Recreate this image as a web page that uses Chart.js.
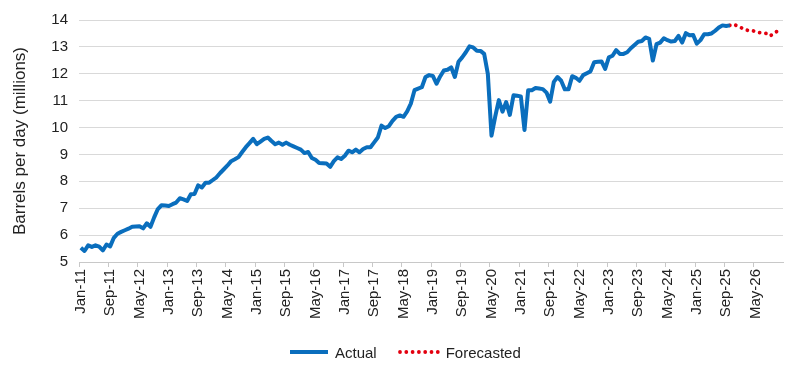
<!DOCTYPE html>
<html>
<head>
<meta charset="utf-8">
<script src="https://cdn.jsdelivr.net/npm/chart.js@4.4.1/dist/chart.umd.min.js"></script>
<style>
  html, body { margin: 0; padding: 0; background: #ffffff; }
  #wrap { width: 800px; height: 378px; position: relative; }
  #legend {
    position: absolute; left: 290px; top: 342px; height: 20px;
    display: flex; align-items: center;
    font-family: 'Liberation Sans', Arial, sans-serif; font-size: 15px; color: #222;
  }
  .item { display: flex; align-items: center; }
  .sw-line { width: 38px; height: 4px; background: #0a6ebd; margin-right: 7px; }
  .sw-dot { margin-right: 5px; display: block; }
  .gap { width: 20px; }
</style>
</head>
<body>
<div id="wrap">
  <canvas id="c" width="800" height="378"></canvas>
  <div id="legend">
    <div class="item"><span class="sw-line"></span><span>Actual</span></div>
    <div class="gap"></div>
    <div class="item">
      <svg class="sw-dot" width="44" height="8"><line x1="3" y1="4" x2="41" y2="4" stroke="#e3000f" stroke-width="3.8" stroke-linecap="round" stroke-dasharray="0 6.3"/></svg>
      <span>Forecasted</span>
    </div>
  </div>
</div>
<script>
// Month categories Jan-11 .. Dec-26
const monthNames = ["Jan","Feb","Mar","Apr","May","Jun","Jul","Aug","Sep","Oct","Nov","Dec"];
const categories = [];
for (let y = 11; y <= 26; y++) {
  for (let m = 0; m < 12; m++) categories.push(monthNames[m] + "-" + y);
}

// Actual production, Jan-11 .. Oct-25 (million b/d)
const actual = [
  5.53,5.41,5.62,5.56,5.62,5.57,5.43,5.65,5.58,5.90,6.05,6.12,
  6.18,6.24,6.31,6.32,6.33,6.25,6.44,6.31,6.66,6.97,7.11,7.10,
  7.08,7.15,7.21,7.37,7.33,7.27,7.52,7.53,7.85,7.77,7.95,7.95,
  8.05,8.15,8.31,8.45,8.59,8.75,8.82,8.90,9.09,9.27,9.42,9.58,
  9.38,9.48,9.58,9.63,9.50,9.38,9.44,9.36,9.44,9.36,9.30,9.24,
  9.18,9.05,9.09,8.87,8.80,8.68,8.67,8.66,8.54,8.75,8.89,8.83,
  8.95,9.14,9.08,9.18,9.08,9.20,9.27,9.27,9.45,9.63,10.07,9.98,
  10.05,10.25,10.40,10.45,10.40,10.60,10.89,11.39,11.45,11.50,11.88,11.95,
  11.92,11.63,11.90,12.12,12.15,12.24,11.88,12.45,12.61,12.80,13.02,12.98,
  12.86,12.85,12.74,12.00,9.70,10.40,11.02,10.59,10.95,10.47,11.20,11.18,
  11.16,9.91,11.39,11.39,11.47,11.45,11.43,11.30,10.96,11.70,11.88,11.74,
  11.42,11.42,11.91,11.85,11.74,11.95,12.02,12.09,12.43,12.45,12.46,12.18,
  12.61,12.67,12.88,12.74,12.74,12.80,12.95,13.07,13.19,13.22,13.35,13.30,
  12.49,13.10,13.16,13.32,13.25,13.20,13.22,13.41,13.16,13.51,13.43,13.44,
  13.12,13.25,13.47,13.47,13.50,13.60,13.72,13.80,13.78,13.80
];

// Forecast, Oct-25 .. Nov-26 (million b/d)
const forecastStartIndex = 177;
const forecast = [13.80,13.84,13.78,13.72,13.65,13.61,13.61,13.57,13.53,13.52,13.50,13.41,13.50,13.59];

// Y axis ticks
const yMin = 5, yMax = 14, yStep = 1;
// X axis: one tick every 8 months
const labelEvery = 8;

// each month sits in the middle of its category slot
const actualData = actual.map((v, i) => ({ x: i + 0.5, y: v }));
const forecastData = forecast.map((v, k) => ({ x: forecastStartIndex + k + 0.5, y: v }));

const FONT = "'Liberation Sans', Arial, sans-serif";

new Chart(document.getElementById('c'), {
  type: 'line',
  data: {
    datasets: [
      {
        label: 'Actual',
        data: actualData,
        borderColor: '#0a6ebd',
        backgroundColor: '#0a6ebd',
        borderWidth: 4,
        pointRadius: 0,
        tension: 0,
        borderJoinStyle: 'round'
      },
      {
        label: 'Forecasted',
        data: forecastData,
        borderColor: '#e3000f',
        backgroundColor: '#e3000f',
        borderWidth: 3.8,
        borderDash: [0.01, 6.3],
        borderCapStyle: 'round',
        pointRadius: 0,
        tension: 0
      }
    ]
  },
  options: {
    responsive: false,
    animation: false,
    devicePixelRatio: 1,
    layout: { padding: { top: 15, right: 17, bottom: 44, left: 0 } },
    plugins: {
      tooltip: { enabled: false },
      legend: { display: false }
    },
    scales: {
      x: {
        type: 'linear',
        min: 0,
        max: categories.length,
        afterFit: (s) => { s.height = 72; },
        grid: {
          drawOnChartArea: false,
          drawTicks: true,
          tickLength: 5,
          color: '#c8c8c8',
          lineWidth: 1
        },
        border: { display: true, color: '#c8c8c8', width: 1 },
        ticks: {
          stepSize: labelEvery,
          autoSkip: false,
          maxRotation: 90,
          minRotation: 90,
          labelOffset: 2,
          padding: 2,
          color: '#222',
          font: { family: FONT, size: 15 },
          callback: (v) => (v < categories.length && v % labelEvery === 0) ? categories[v] : null
        }
      },
      y: {
        min: yMin,
        max: yMax,
        afterFit: (s) => { s.width = 79; },
        grid: {
          color: '#d9d9d9',
          lineWidth: 1,
          drawTicks: false
        },
        border: { display: false },
        ticks: {
          stepSize: yStep,
          padding: 11,
          color: '#222',
          font: { family: FONT, size: 15 }
        },
        title: {
          display: true,
          text: 'Barrels per day (millions)',
          color: '#222',
          font: { family: FONT, size: 17 },
          padding: { top: 10, bottom: 0 }
        }
      }
    }
  }
});
</script>
</body>
</html>
